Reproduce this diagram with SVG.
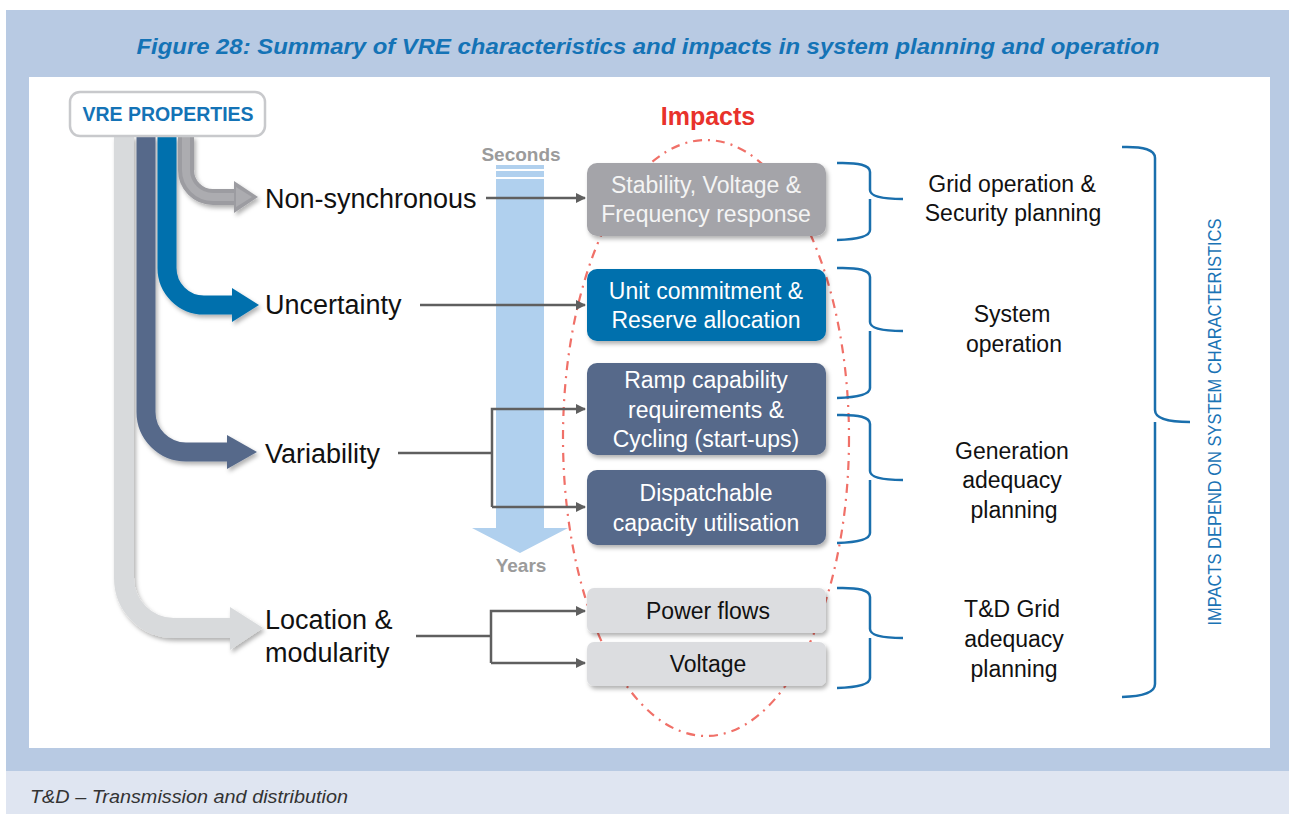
<svg xmlns="http://www.w3.org/2000/svg" width="1289" height="814" viewBox="0 0 1289 814">
<defs>
<style>
.t{font-family:"Liberation Sans",Arial,sans-serif}
.lbl{font-family:"Liberation Sans",Arial,sans-serif;font-size:27px;fill:#111}
.bx{font-family:"Liberation Sans",Arial,sans-serif;font-size:23px;text-anchor:middle}
.rt{font-family:"Liberation Sans",Arial,sans-serif;font-size:23px;text-anchor:middle;fill:#111}
.conn{fill:none;stroke:#5f5f5f;stroke-width:2.5}
.brace{fill:none;stroke:#1a6fad;stroke-width:2.5;stroke-linejoin:round}
</style>
<filter id="sh" x="-20%" y="-20%" width="140%" height="150%">
<feDropShadow dx="2" dy="3" stdDeviation="2" flood-color="#000" flood-opacity="0.3"/>
</filter>
<marker id="ah" viewBox="0 0 10 10" refX="9" refY="5" markerWidth="11" markerHeight="10" markerUnits="userSpaceOnUse" orient="auto">
<path d="M0,0 L10,5 L0,10 z" fill="#5f5f5f"/>
</marker>
</defs>

<!-- background panels -->
<rect x="0" y="0" width="1289" height="814" fill="#fff"/>
<rect x="6" y="10" width="1283" height="762" fill="#b8cae3"/>
<rect x="6" y="771" width="1283" height="43" fill="#dfe5f1"/>
<rect x="29" y="77" width="1241" height="671" fill="#fff"/>

<text class="t" x="648" y="54" text-anchor="middle" font-size="22" font-weight="bold" font-style="italic" fill="#1473b6" textLength="1023" lengthAdjust="spacingAndGlyphs">Figure 28: Summary of VRE characteristics and impacts in system planning and operation</text>
<text class="t" x="30" y="803" font-size="18.5" font-style="italic" fill="#333" textLength="318" lengthAdjust="spacingAndGlyphs">T&amp;D – Transmission and distribution</text>

<!-- property arrows -->
<g id="band-location" filter="url(#sh)">
<path d="M124,136 V578 A50,50 0 0 0 174,628 H232" fill="none" stroke="#d8dadc" stroke-width="20"/>
<polygon points="230,607 263,628 230,650" fill="#d8dadc"/>
</g>
<g id="band-variability" filter="url(#sh)">
<path d="M146,136 V412 A40,40 0 0 0 186,452 H229" fill="none" stroke="#56698a" stroke-width="19"/>
<polygon points="227,435 257,452 227,469" fill="#56698a"/>
</g>
<g id="band-uncertainty" filter="url(#sh)">
<path d="M167,136 V268 A37,37 0 0 0 204,305 H234" fill="none" stroke="#0070ad" stroke-width="19"/>
<polygon points="232,288 259,305 232,322" fill="#0070ad"/>
</g>
<g id="band-nonsync" filter="url(#sh)">
<path d="M186,136 V170 A27,27 0 0 0 213,197 H236" fill="none" stroke="#9c9ca1" stroke-width="16"/>
<path d="M186,136 V170 A27,27 0 0 0 213,197 H238" fill="none" stroke="#acacb0" stroke-width="8"/>
<polygon points="234,181 258,197 234,213" fill="#9c9ca1"/>
<polygon points="236,187 252,197 236,207" fill="#acacb0"/>
</g>

<g id="vre-properties">
<rect x="70" y="92" width="195" height="44" rx="10" fill="#fff" stroke="#c8c9cc" stroke-width="2.5"/>
<text class="t" x="168" y="121" text-anchor="middle" font-size="19.5" font-weight="bold" fill="#1473b6">VRE PROPERTIES</text>
</g>

<g id="label-nonsync"><text class="lbl" x="265" y="208">Non-synchronous</text></g>
<g id="label-uncertainty"><text class="lbl" x="265" y="314">Uncertainty</text></g>
<g id="label-variability"><text class="lbl" x="265" y="463">Variability</text></g>
<g id="label-location"><text class="lbl" x="265" y="629">Location &amp;</text><text class="lbl" x="265" y="662">modularity</text></g>

<!-- time bar -->
<g id="timebar">
<rect x="496" y="165" width="48" height="4" fill="#b0d0ee"/>
<rect x="496" y="171" width="48" height="6" fill="#b0d0ee"/>
<polygon points="496,179 544,179 544,528 568,528 520,553 472,528 496,528" fill="#b0d0ee"/>
<text class="t" x="521" y="161" text-anchor="middle" font-size="19" font-weight="bold" fill="#9b9b9b">Seconds</text>
<text class="t" x="521" y="572" text-anchor="middle" font-size="19" font-weight="bold" fill="#9b9b9b">Years</text>
</g>

<!-- impacts ellipse -->
<g id="impacts-ellipse">
<ellipse cx="706" cy="438" rx="143" ry="298" fill="none" stroke="#f07068" stroke-width="2.2" stroke-dasharray="9 6 2 6"/>
<text class="t" x="708" y="125" text-anchor="middle" font-size="25" font-weight="bold" fill="#e8322b">Impacts</text>
</g>

<!-- connectors -->
<g id="connectors">
<path class="conn" d="M486,198 H585" marker-end="url(#ah)"/>
<path class="conn" d="M420,305 H585" marker-end="url(#ah)"/>
<path class="conn" d="M398,453 H492"/>
<path class="conn" d="M492,507 V409 H585" marker-end="url(#ah)"/>
<path class="conn" d="M492,507 H585" marker-end="url(#ah)"/>
<path class="conn" d="M416,636 H491"/>
<path class="conn" d="M491,663 V611 H585" marker-end="url(#ah)"/>
<path class="conn" d="M491,663 H585" marker-end="url(#ah)"/>
</g>

<!-- impact boxes -->
<g id="box-stability">
<rect x="587" y="163" width="239" height="73" rx="10" fill="#a4a4a9" filter="url(#sh)"/>
<text class="bx" x="706" y="193" fill="#f4f4f4">Stability, Voltage &amp;</text>
<text class="bx" x="706" y="222" fill="#f4f4f4">Frequency response</text>
</g>
<g id="box-unit">
<rect x="587" y="269" width="239" height="72" rx="10" fill="#0070ad" filter="url(#sh)"/>
<text class="bx" x="706" y="299" fill="#fff">Unit commitment &amp;</text>
<text class="bx" x="706" y="328" fill="#fff">Reserve allocation</text>
</g>
<g id="box-ramp">
<rect x="587" y="363" width="239" height="92" rx="10" fill="#56698a" filter="url(#sh)"/>
<text class="bx" x="706" y="388" fill="#fff">Ramp capability</text>
<text class="bx" x="706" y="418" fill="#fff">requirements &amp;</text>
<text class="bx" x="706" y="447" fill="#fff">Cycling (start-ups)</text>
</g>
<g id="box-dispatch">
<rect x="587" y="470" width="239" height="75" rx="10" fill="#56698a" filter="url(#sh)"/>
<text class="bx" x="706" y="501" fill="#fff">Dispatchable</text>
<text class="bx" x="706" y="531" fill="#fff">capacity utilisation</text>
</g>
<g id="box-powerflows">
<rect x="587" y="588" width="239" height="45" rx="7" fill="#dcdde0" filter="url(#sh)"/>
<text class="bx" x="708" y="619" fill="#111">Power flows</text>
</g>
<g id="box-voltage">
<rect x="587" y="642" width="239" height="44" rx="7" fill="#dcdde0" filter="url(#sh)"/>
<text class="bx" x="708" y="672" fill="#111">Voltage</text>
</g>

<!-- braces -->
<g id="brace-grid">
<path class="brace" d="M837,163 Q870,162 870,172 V190 Q870,199 903,199 M870,199 Q870,199 870,208 V230 Q870,239 837,240"/>
</g>
<g id="brace-sysop">
<path class="brace" d="M837,268 Q870,267 870,277 V322 Q870,331 903,331 M870,331 Q870,331 870,340 V388 Q870,397 837,398"/>
</g>
<g id="brace-gen">
<path class="brace" d="M837,415 Q870,414 870,424 V471 Q870,480 903,480 M870,480 Q870,480 870,489 V533 Q870,542 837,543"/>
</g>
<g id="brace-td">
<path class="brace" d="M837,588 Q870,587 870,597 V629 Q870,638 903,638 M870,638 Q870,638 870,647 V678 Q870,687 837,688"/>
</g>
<g id="brace-all">
<path class="brace" d="M1122,147 Q1155,146 1155,158 V410 Q1155,422 1190,422 M1155,422 Q1155,422 1155,434 V684 Q1155,696 1122,697"/>
</g>

<!-- right labels -->
<g id="lbl-grid"><text class="rt" x="1012" y="192">Grid operation &amp;</text><text class="rt" x="1013" y="221">Security planning</text></g>
<g id="lbl-sysop"><text class="rt" x="1012" y="322">System</text><text class="rt" x="1014" y="352">operation</text></g>
<g id="lbl-gen"><text class="rt" x="1012" y="459">Generation</text><text class="rt" x="1012" y="488">adequacy</text><text class="rt" x="1014" y="518">planning</text></g>
<g id="lbl-td"><text class="rt" x="1012" y="617">T&amp;D Grid</text><text class="rt" x="1014" y="647">adequacy</text><text class="rt" x="1014" y="677">planning</text></g>

<g id="lbl-vertical">
<text class="t" transform="translate(1221,422) rotate(-90)" text-anchor="middle" font-size="18" fill="#1a73b5" textLength="407" lengthAdjust="spacingAndGlyphs">IMPACTS DEPEND ON SYSTEM CHARACTERISTICS</text>
</g>
</svg>
